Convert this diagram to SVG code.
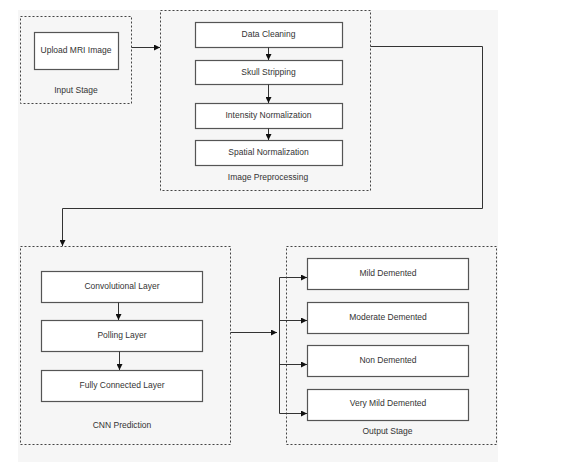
<svg xmlns="http://www.w3.org/2000/svg" width="566" height="462" viewBox="0 0 566 462">
<defs>
<style>
.grp{fill:none;stroke:#444;stroke-width:1;stroke-dasharray:2,2}
.box{fill:#fff;stroke:#555;stroke-width:1.2}
.t{font-family:"Liberation Sans",Arial,sans-serif;font-size:8.5px;fill:#333;text-anchor:middle;dominant-baseline:middle}
.c{fill:none;stroke:#333;stroke-width:1}
</style>
<marker id="ah" viewBox="0 0 6 6" refX="6" refY="3" markerWidth="6" markerHeight="6" markerUnits="userSpaceOnUse" orient="auto">
<path d="M0,0 L6,3 L0,6 Z" fill="#111"/>
</marker>
</defs>
<rect x="0" y="0" width="566" height="462" fill="#fff"/>
<rect x="18" y="10" width="480" height="452" fill="#f6f6f6"/>

<g id="input-stage">
<rect class="grp" x="20.5" y="16.5" width="111" height="87"/>
<text class="t" x="76" y="91">Input Stage</text>
</g>
<g id="upload">
<rect class="box" x="34.5" y="32.5" width="84" height="37"/>
<text class="t" x="76" y="51">Upload MRI Image</text>
</g>

<g id="preprocessing">
<rect class="grp" x="160.5" y="10.5" width="210" height="180"/>
<text class="t" x="268" y="177.5">Image Preprocessing</text>
</g>
<g id="data-cleaning">
<rect class="box" x="195.5" y="22.5" width="147" height="25"/>
<text class="t" x="268.5" y="35">Data Cleaning</text>
</g>
<g id="skull-stripping">
<rect class="box" x="195.5" y="60.5" width="147" height="24"/>
<text class="t" x="268.5" y="72.5">Skull Stripping</text>
</g>
<g id="intensity-normalization">
<rect class="box" x="195.5" y="103.5" width="147" height="25"/>
<text class="t" x="268.5" y="116">Intensity Normalization</text>
</g>
<g id="spatial-normalization">
<rect class="box" x="195.5" y="140.5" width="147" height="25"/>
<text class="t" x="268.5" y="153">Spatial Normalization</text>
</g>

<g id="cnn-prediction">
<rect class="grp" x="20.5" y="246.5" width="210" height="198"/>
<text class="t" x="122" y="425.5">CNN Prediction</text>
</g>
<g id="convolutional-layer">
<rect class="box" x="41.5" y="271.5" width="161" height="31"/>
<text class="t" x="122" y="286.5">Convolutional Layer</text>
</g>
<g id="polling-layer">
<rect class="box" x="41.5" y="320.5" width="161" height="31"/>
<text class="t" x="122" y="336">Polling Layer</text>
</g>
<g id="fully-connected-layer">
<rect class="box" x="41.5" y="370.5" width="161" height="31"/>
<text class="t" x="122" y="385.5">Fully Connected Layer</text>
</g>

<g id="output-stage">
<rect class="grp" x="286.5" y="246.5" width="210" height="198"/>
<text class="t" x="387.5" y="432">Output Stage</text>
</g>
<g id="mild-demented">
<rect class="box" x="307.5" y="258.5" width="161" height="31"/>
<text class="t" x="388" y="273.5">Mild Demented</text>
</g>
<g id="moderate-demented">
<rect class="box" x="307.5" y="302.5" width="161" height="31"/>
<text class="t" x="388" y="317.5">Moderate Demented</text>
</g>
<g id="non-demented">
<rect class="box" x="307.5" y="345.5" width="161" height="31"/>
<text class="t" x="388" y="360.5">Non Demented</text>
</g>
<g id="very-mild-demented">
<rect class="box" x="307.5" y="389.5" width="161" height="31"/>
<text class="t" x="388" y="404">Very Mild Demented</text>
</g>

<g id="connectors">
<path class="c" d="M131.5,47.5 H160" marker-end="url(#ah)"/>
<path class="c" d="M268.5,47.5 V60" marker-end="url(#ah)"/>
<path class="c" d="M268.5,84.5 V103" marker-end="url(#ah)"/>
<path class="c" d="M268.5,128.5 V140" marker-end="url(#ah)"/>
<path class="c" d="M370.5,46.5 H482.5 V208.5 H62.5 V246" marker-end="url(#ah)"/>
<path class="c" d="M118.5,302.5 V320" marker-end="url(#ah)"/>
<path class="c" d="M119.5,351.5 V370" marker-end="url(#ah)"/>
<path class="c" d="M230.5,332.5 H277" marker-end="url(#ah)"/>
<path class="c" d="M279.5,277.5 V413.5"/>
<path class="c" d="M279.5,277.5 H307" marker-end="url(#ah)"/>
<path class="c" d="M279.5,320.5 H307" marker-end="url(#ah)"/>
<path class="c" d="M279.5,364.5 H307" marker-end="url(#ah)"/>
<path class="c" d="M279.5,413.5 H307" marker-end="url(#ah)"/>
</g>
</svg>
